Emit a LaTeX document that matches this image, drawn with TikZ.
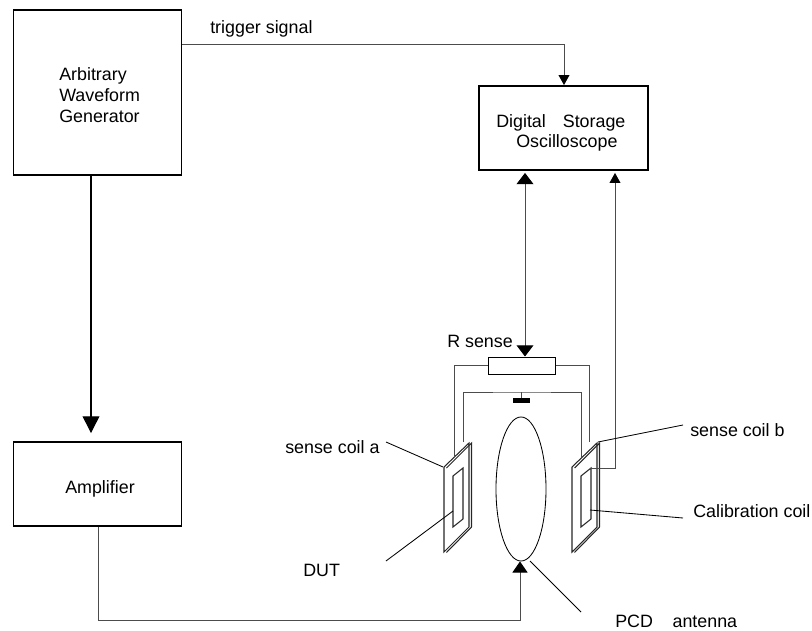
\documentclass[tikz,border=0pt]{standalone}
\usepackage{fontspec}
\setmainfont{Liberation Sans}
\usetikzlibrary{arrows.meta,shapes.geometric}
\tikzset{
    blockbox/.style={draw, line width=1.3pt, minimum width=4.2cm, inner sep=0pt},
    wire/.style={draw, line width=0.7pt, black!70},
    leader/.style={draw, line width=0.6pt},
    coilline/.style={draw, line width=0.75pt, black!85},
    label/.style={anchor=west, inner sep=0pt, yshift=-0.04cm, font=\fontsize{12.7}{15}\selectfont},
    smalltip/.style={-{Triangle[length=0.25cm, width=0.27cm, black]}},
    bigtip/.style={-{Triangle[length=0.42cm, width=0.42cm, black]}},
}
\begin{document}
\begin{tikzpicture}[x=0.025cm, y=-0.025cm]
    \useasboundingbox (0, 0) rectangle (812, 631);

    % boxes
    \node[blockbox, minimum height=4.125cm] (awg) at (97.5, 92.5) {};
    \node[blockbox, minimum height=2.1cm] (amp) at (97.5, 484) {};
    \node[blockbox, minimum width=4.225cm, minimum height=2.1cm] (dso) at (563.5, 128) {};
    \node[draw, line width=0.7pt, minimum width=1.675cm, minimum height=0.425cm, inner sep=0pt] (rsense) at (521.5, 365.5) {};
    \node[draw, line width=0.6pt, ellipse, minimum width=1.25cm, minimum height=3.6cm, inner sep=0pt] (pcd) at (521, 489) {};
    \node[fill=black, minimum width=0.425cm, minimum height=0.125cm, inner sep=0pt] (gnd) at (521.5, 400.5) {};

    % the two coils
    \foreach \dx in {0, 128} {
        \begin{scope}[xshift=\dx*0.025cm]
            \draw[coilline] (444, 467) -- (469, 443) -- (469, 527) -- (444, 552) -- cycle;
            \draw[coilline] (446.5, 468) -- (471.5, 443) -- (471.5, 527) -- (446.5, 552.5);
            \draw[coilline] (453, 476) -- (463, 468) -- (463, 519) -- (453, 527) -- cycle;
        \end{scope}
    }

    % points on the coils and on the boxes
    \coordinate (coilaout) at (454, 457);
    \coordinate (coilain) at (463, 442);
    \coordinate (coilbin) at (581, 457);
    \coordinate (coilbout) at (589, 442);
    \coordinate (coilbcal) at (590, 468);
    \coordinate (coilaedge) at (443, 467);
    \coordinate (coilbedge) at (598, 442);
    \coordinate (dutedge) at (453, 511);
    \coordinate (caledge) at (590, 510);
    \coordinate (innertop) at (521.5, 392);
    \coordinate (trigstart) at (awg.east |- 0, 44);
    \coordinate (trigend) at (564, 0 |- dso.north);
    \coordinate (awgout) at (91, 0 |- awg.south);
    \coordinate (ampin) at (91, 0 |- amp.north);
    \coordinate (ampout) at (98, 0 |- amp.south);
    \coordinate (pcdin) at (520, 0 |- pcd.south);
    \coordinate (dsoa) at (525, 0 |- dso.south);
    \coordinate (rtop) at (525, 0 |- rsense.north);
    \coordinate (dsob) at (615, 0 |- dso.south);

    % connectors
    \draw[wire, smalltip] (trigstart) -| (trigend);
    \draw[black, line width=0.8pt, bigtip, shorten >=2mm] (awgout) -- (ampin);
    \draw[wire, -{Triangle[length=0.28cm, width=0.38cm, black]}] (ampout) |- (520, 620) -- (pcdin);
    \draw[wire, {Triangle[length=0.28cm, width=0.42cm, black]}-{Triangle[length=0.28cm, width=0.42cm, black]}, shorten <=0.5mm] (dsoa) -- (rtop);
    \draw[wire, smalltip, shorten >=0.5mm] (coilbcal) -| (dsob);
    \draw[wire] (rsense.west) -| (coilaout);
    \draw[wire] (rsense.east) -| (coilbout);
    \draw[wire] (coilain) |- (innertop) -| (coilbin);
    \draw[wire] (innertop) -- (gnd.north);

    % leader lines
    \coordinate (leada) at (386, 442);
    \coordinate (leaddut) at (386, 561);
    \coordinate (leadb) at (683, 425);
    \coordinate (leadcal) at (683, 518);
    \coordinate (leadpcd) at (581, 612);
    \coordinate (pcdedge) at (530, 561);
    \draw[leader] (leada) -- (coilaedge);
    \draw[leader] (leaddut) -- (dutedge);
    \draw[leader] (coilbedge) -- (leadb);
    \draw[leader] (caledge) -- (leadcal);
    \draw[leader] (pcdedge) -- (leadpcd);

    % labels
    \node[label] (arb) at (59, 74) {Arbitrary};
    \node[label] (wav) at (59, 94) {Waveform};
    \node[label] (gen) at (59, 115) {Generator};
    \node[label] (trig) at (210, 27) {trigger signal};
    \node[label] (dig) at (496, 121) {Digital\hspace{0.95em}Storage};
    \node[label] (osc) at (516, 141) {Oscilloscope};
    \node[label] (ampl) at (65, 487) {Amplifier};
    \node[label] (rlab) at (447, 340) {R sense};
    \node[label] (sca) at (285, 446) {sense coil a};
    \node[label] (dut) at (303, 569) {DUT};
    \node[label] (scb) at (690, 429) {sense coil b};
    \node[label] (cal) at (693, 510) {Calibration coil};
    \node[label] (pcdlab) at (615, 620) {PCD\hspace{1.1em}antenna};
\end{tikzpicture}
\end{document}
